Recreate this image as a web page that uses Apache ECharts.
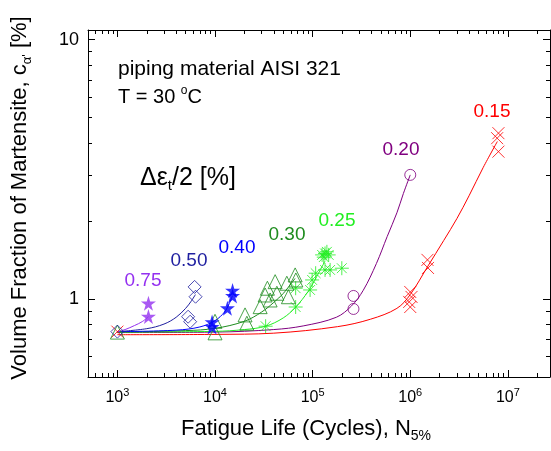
<!DOCTYPE html>
<html>
<head>
<meta charset="utf-8">
<script src="https://cdn.jsdelivr.net/npm/echarts@6/dist/echarts.min.js"></script>
<style>
  html, body { margin: 0; padding: 0; background: #fff; }
  #main { width: 551px; height: 451px; }
</style>
</head>
<body>
<div id="main"></div>
<script>
    var FONT = '"Liberation Sans", Arial, Helvetica, sans-serif';

    // axis ranges and ticks
    var xMin = 500, xMax = 2.7e7;
    var yMin = 0.5, yMax = 10.9;
    var xMajor = [1e3, 1e4, 1e5, 1e6, 1e7];
    var yMajor = [1, 10];
    var xMinor = [], yMinor = [];
    for (var d = 2; d <= 7; d++) {
        for (var k = 2; k <= 9; k++) {
            var v = k * Math.pow(10, d);
            if (v > xMin && v < xMax) xMinor.push(v);
        }
    }
    for (var d2 = -1; d2 <= 1; d2++) {
        for (var k2 = 2; k2 <= 9; k2++) {
            var w = +(k2 * Math.pow(10, d2)).toFixed(3);
            if (w > yMin && w < yMax) yMinor.push(w);
        }
    }

    // strain amplitudes (labels) and colours
    var amps = ['0.75', '0.50', '0.40', '0.30', '0.25', '0.20', '0.15'];
    var colors = ['#9430f0', '#1f1fa0', '#0000ff', '#1e8c1e', '#22ee22', '#800080', '#ff0000'];

    // measured points [N, c]
    var pts075 = [[2080, 0.962], [2080, 0.855]];
    var pts050 = [[1000, 0.748], [6180, 1.113], [6320, 1.02], [5300, 0.854], [5560, 0.817]];
    var pts040 = [[9330, 0.815], [9330, 0.78], [13400, 0.921], [15130, 1.078], [15130, 1.027]];
    var pts030 = [[1000, 0.745], [10000, 0.82], [10000, 0.74], [20300, 0.868], [21200, 0.806],
        [29000, 0.934], [32600, 1.036], [34400, 1.1], [36700, 0.991], [41300, 1.166], [43000, 1.052],
        [54400, 1.15], [56500, 1.02], [66200, 1.238], [67300, 1.184]];
    var pts025 = [[33000, 0.785], [67000, 0.931], [67000, 1.1], [94200, 1.083], [98800, 1.184],
        [107400, 1.257], [125000, 1.479], [130000, 1.45], [134000, 1.498], [140000, 1.52], [146000, 1.479],
        [134000, 1.294], [151000, 1.294], [199000, 1.314]];
    var pts020 = [[262000, 1.027], [262000, 0.915], [1000000, 3.01]];
    var pts015 = [[1000, 0.748], [8.0e6, 4.36], [7.76e6, 4.17], [8.0e6, 3.70], [1.5e6, 1.415], [1.52e6, 1.317],
        [1.0e6, 1.064], [1.03e6, 1.018], [975000, 0.974], [1.0e6, 0.931]];

    // fitted curves
    var fit075 = [[1000, 0.748], [1200, 0.762], [1500, 0.79], [1800, 0.818], [2080, 0.855]];
    var fit050 = [[1000, 0.748], [2000, 0.768], [3000, 0.8], [4000, 0.85], [5000, 0.92], [5700, 0.98], [6300, 1.04]];
    var fit040 = [[1000, 0.748], [4000, 0.758], [7000, 0.78], [10000, 0.825], [12500, 0.89], [14000, 0.96], [15100, 1.03]];
    var fit030 = [[1000, 0.745], [5000, 0.755], [10000, 0.77], [20000, 0.82], [30000, 0.89], [40000, 0.97], [50000, 1.05], [66000, 1.2]];
    var fit025 = [[1000, 0.745], [10000, 0.75], [20000, 0.762], [33000, 0.785], [50000, 0.845], [67000, 0.93],
        [90000, 1.07], [110000, 1.22], [134000, 1.4]];
    var fit020 = [[1000, 0.742], [10000, 0.745], [40000, 0.762], [80000, 0.787], [175000, 0.85], [250000, 0.94],
        [330000, 1.08], [450000, 1.37], [580000, 1.74], [730000, 2.15], [850000, 2.55], [1000000, 3.01]];
    var fit015 = [[1000, 0.728], [10000, 0.73], [40000, 0.738], [180000, 0.782], [390000, 0.835], [730000, 0.92],
        [1.0e6, 1.04], [1.5e6, 1.33], [2.2e6, 1.68], [3.0e6, 2.04], [4.0e6, 2.5], [5.6e6, 3.22], [7.8e6, 4.05]];

    var STAR = 'path://M50 2 L61 37 L98 37 L68 59 L79 95 L50 73 L21 95 L32 59 L2 37 L39 37 Z';
    var ASTER = 'path://M0 50 L100 50 M50 0 L50 100 M15 15 L85 85 M85 15 L15 85';
    var CROSS = 'path://M0 0 L100 100 M100 0 L0 100';
    var DIAMOND = 'path://M50 0 L100 50 L50 100 L0 50 Z';

    var myChart = echarts.init(document.getElementById('main'));

    function xAxisDef(pos, major, showLine) {
        return {
            type: 'log', logBase: 10, min: xMin, max: xMax, position: pos,
            axisLine: { show: showLine, lineStyle: { color: '#000', width: 1 } },
            axisTick: { show: true, inside: true, length: major ? 7 : 4,
                customValues: major ? xMajor : xMinor, lineStyle: { color: '#000' } },
            axisLabel: { show: false },
            splitLine: { show: false }
        };
    }
    function yAxisDef(pos, major, showLine) {
        return {
            type: 'log', logBase: 10, min: yMin, max: yMax, position: pos,
            axisLine: { show: showLine, lineStyle: { color: '#000', width: 1 } },
            axisTick: { show: true, inside: true, length: major ? 7 : 4,
                customValues: major ? yMajor : yMinor, lineStyle: { color: '#000' } },
            axisLabel: { show: false },
            splitLine: { show: false }
        };
    }

    var xb = xAxisDef('bottom', true, true);
    xb.axisLabel = {
        show: true, customValues: xMajor, margin: 10,
        formatter: function (v) { return '{b|10}{s|' + Math.round(Math.log10(v)) + '}'; },
        rich: {
            b: { fontSize: 16, lineHeight: 22, fontFamily: FONT, color: '#000' },
            s: { fontSize: 11, lineHeight: 11, verticalAlign: 'top', fontFamily: FONT, color: '#000' }
        }
    };
    xb.name = '{a|Fatigue Life (Cycles), N}{b|5%}';
    xb.nameLocation = 'middle';
    xb.nameGap = 38;
    xb.nameTextStyle = {
        padding: [0, 26, 0, 0],
        rich: {
            a: { fontSize: 22, lineHeight: 28, fontFamily: FONT, color: '#000' },
            b: { fontSize: 14, lineHeight: 14, verticalAlign: 'bottom', fontFamily: FONT, color: '#000' }
        }
    };

    var yl = yAxisDef('left', true, true);
    yl.axisLabel = {
        show: true, customValues: yMajor, margin: 9,
        fontSize: 18, fontFamily: FONT, color: '#000'
    };
    yl.name = '{a|Volume Fraction of Martensite, c}{b|α\'}{a| [%]}';
    yl.nameLocation = 'middle';
    yl.nameGap = 54;
    yl.nameTextStyle = {
        padding: [0, 0, 0, 11],
        rich: {
            a: { fontSize: 22, lineHeight: 28, fontFamily: FONT, color: '#000' },
            b: { fontSize: 13, lineHeight: 13, verticalAlign: 'bottom', fontFamily: FONT, color: '#000' }
        }
    };

    function scatter(data, color, symbol, size, filled, z) {
        return {
            type: 'scatter', data: data, symbol: symbol, symbolSize: size, z: z,
            itemStyle: {
                color: filled ? color : 'rgba(0,0,0,0)',
                borderColor: color, borderWidth: filled ? 0 : 1
            },
            emphasis: { disabled: true }
        };
    }
    function curve(data, color) {
        return {
            type: 'line', data: data, smooth: 0.35, showSymbol: false, symbol: 'none',
            lineStyle: { color: color, width: 1 }, z: 2, emphasis: { disabled: true }
        };
    }

    var option = {
        animation: false,
        backgroundColor: '#fff',
        grid: { left: 88, right: 1, top: 30, bottom: 74, containLabel: false },
        xAxis: [xb, xAxisDef('bottom', false, false), xAxisDef('top', true, true), xAxisDef('top', false, false)],
        yAxis: [yl, yAxisDef('left', false, false), yAxisDef('right', true, true), yAxisDef('right', false, false)],
        series: [
            curve(fit015, colors[6]),
            curve(fit020, colors[5]),
            curve(fit025, colors[4]),
            curve(fit030, colors[3]),
            curve(fit040, colors[2]),
            curve(fit050, colors[1]),
            curve(fit075, colors[0]),
            scatter(pts015, colors[6], CROSS, 12, false, 3),
            scatter(pts020, colors[5], 'circle', 11, false, 4),
            scatter(pts025, colors[4], ASTER, 14, false, 5),
            scatter(pts030, colors[3], 'triangle', 14, false, 6),
            scatter(pts075, colors[0], STAR, 15, true, 7),
            scatter(pts040, colors[2], STAR, 15, true, 8),
            scatter(pts050, colors[1], DIAMOND, 13, false, 9)
        ],
        graphic: [
            { type: 'text', x: 118, y: 69, style: { text: 'piping material AISI 321', font: '21px ' + FONT,
                fill: '#000', align: 'left', verticalAlign: 'middle' } },
            { type: 'text', x: 118, y: 97, style: {
                text: '{a|T = 30 }{s|o}{a|C}', align: 'left', verticalAlign: 'middle',
                rich: {
                    a: { fontSize: 20, lineHeight: 24, fontFamily: FONT, fill: '#000' },
                    s: { fontSize: 12, lineHeight: 12, verticalAlign: 'top', fontFamily: FONT, fill: '#000' }
                } } },
            { type: 'text', x: 140, y: 178, style: {
                text: '{a|Δε}{b|t}{a|/2 [%]}', align: 'left', verticalAlign: 'middle',
                rich: {
                    a: { fontSize: 25, lineHeight: 30, fontFamily: FONT, fill: '#000' },
                    b: { fontSize: 15, lineHeight: 15, verticalAlign: 'bottom', fontFamily: FONT, fill: '#000' }
                } } },
            { type: 'text', x: 143, y: 281, style: { text: amps[0], font: '19px ' + FONT, fill: colors[0], align: 'center', verticalAlign: 'middle' } },
            { type: 'text', x: 189, y: 261, style: { text: amps[1], font: '19px ' + FONT, fill: colors[1], align: 'center', verticalAlign: 'middle' } },
            { type: 'text', x: 237, y: 248, style: { text: amps[2], font: '19px ' + FONT, fill: colors[2], align: 'center', verticalAlign: 'middle' } },
            { type: 'text', x: 287, y: 235, style: { text: amps[3], font: '19px ' + FONT, fill: colors[3], align: 'center', verticalAlign: 'middle' } },
            { type: 'text', x: 337, y: 221, style: { text: amps[4], font: '19px ' + FONT, fill: colors[4], align: 'center', verticalAlign: 'middle' } },
            { type: 'text', x: 401, y: 150, style: { text: amps[5], font: '19px ' + FONT, fill: colors[5], align: 'center', verticalAlign: 'middle' } },
            { type: 'text', x: 492, y: 112, style: { text: amps[6], font: '19px ' + FONT, fill: colors[6], align: 'center', verticalAlign: 'middle' } }
        ]
    };

    myChart.setOption(option);
</script>
</body>
</html>
